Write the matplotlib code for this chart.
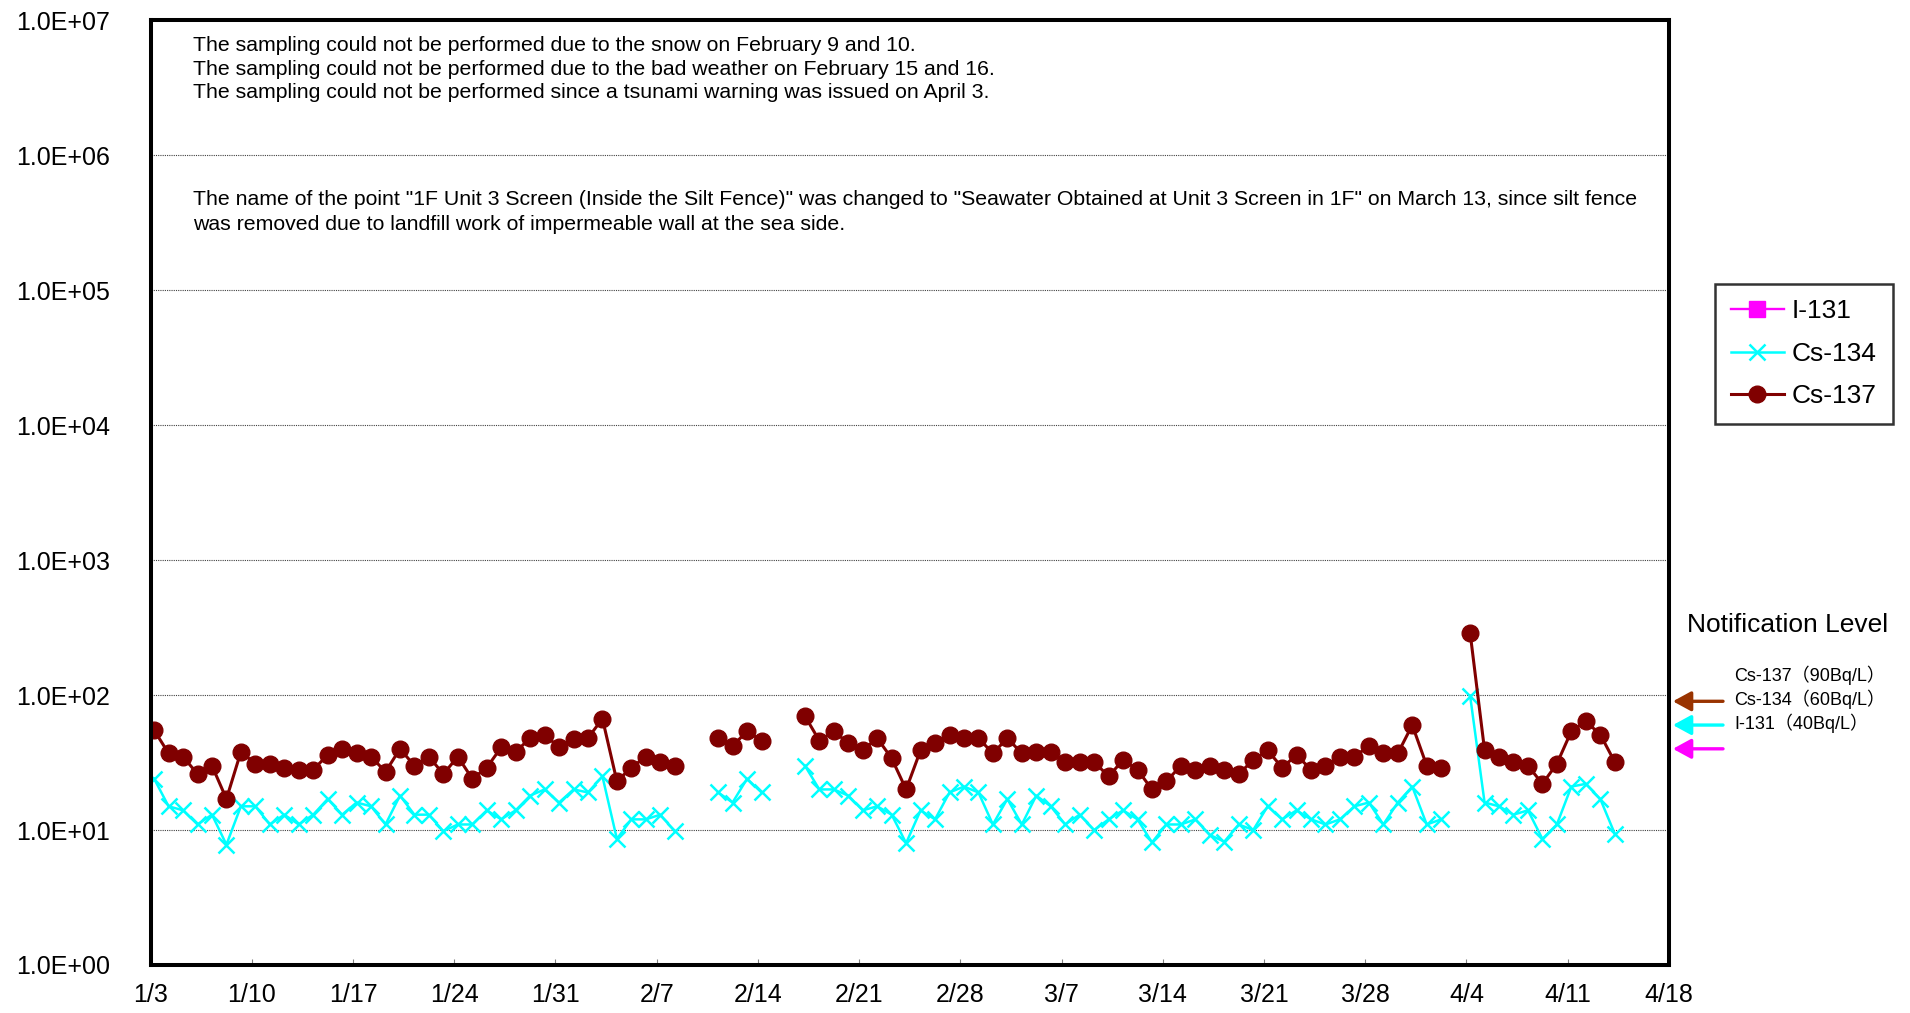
import matplotlib
matplotlib.use("Agg")
import matplotlib.pyplot as plt
import numpy as np
import pandas as pd

plt.rcParams['font.family'] = ['Liberation Sans', 'Noto Sans CJK JP', 'DejaVu Sans']

nan = np.nan

# daily sampling, 1/3 - 4/14 (2014); nan = not sampled
dates = pd.date_range('2014-01-03', '2014-04-14', freq='D')

cs137 = [
    # Jan 3 - Jan 31
    55, 37, 35, 26, 30, 17, 38, 31, 31, 29, 28, 28, 36, 40, 37, 35, 27, 40, 30, 35,
    26, 35, 24, 29, 41, 38, 48, 51, 41,
    # Feb
    47, 48, 67, 23, 29, 35, 32, 30, nan, nan, 48, 42, 54, 46, nan, nan, 70, 46, 54, 44,
    39, 48, 34, 20, 39, 44, 51, 48,
    # Mar
    48, 37, 48, 37, 38, 38, 32, 32, 32, 25, 33, 28, 20, 23, 30, 28, 30, 28, 26, 33,
    39, 29, 36, 28, 30, 35, 35, 42, 37, 37, 60,
    # Apr 1 - 14
    30, 29, nan, 290, 39, 35, 32, 30, 22, 31, 54, 64, 51, 32,
]

cs134 = [
    24, 15, 14, 11, 13, 7.8, 15, 15, 11, 13, 11, 13, 17, 13, 16, 15, 11, 18, 13, 13,
    9.8, 11, 11, 14, 12, 14, 18, 20, 16,
    20, 19, 25, 8.6, 12, 12, 13, 9.8, nan, nan, 19, 16, 24, 19, nan, nan, 30, 20, 20, 18,
    14, 15, 13, 8.0, 14, 12, 19, 21,
    19, 11, 17, 11, 18, 15, 11, 13, 10, 12, 14, 12, 8.1, 11, 11, 12, 9.2, 8.2, 11, 10,
    15, 12, 14, 12, 11, 12, 15, 16, 11, 16, 21,
    11, 12, nan, 99, 16, 15, 13, 14, 8.6, 11, 21, 22, 17, 9.4,
]

# I-131 not detected in the period
i131 = []

notes_top = [
    "The sampling could not be performed due to the snow on February 9 and 10.",
    "The sampling could not be performed due to the bad weather on February 15 and 16.",
    "The sampling could not be performed since a tsunami warning was issued on April 3.",
]
notes_mid = [
    "The name of the point \"1F Unit 3 Screen (Inside the Silt Fence)\" was changed to \"Seawater Obtained at Unit 3 Screen in 1F\" on March 13, since silt fence",
    "was removed due to landfill work of impermeable wall at the sea side.",
]

levels = [90, 60, 40]
level_colors = ['#993300', '#00FFFF', '#FF00FF']
level_labels = ['Cs-137（90Bq/L）', 'Cs-134（60Bq/L）', 'I-131（40Bq/L）']

x = dates + pd.Timedelta(hours=6)

fig = plt.figure(figsize=(19.1, 10.13), dpi=100)
ax = fig.add_axes([0.0788, 0.0474, 0.795, 0.9324])

ax.plot(i131, i131, color='#FF00FF', marker='s', markersize=11, lw=1.7, label='I-131')
ax.plot(x, cs134, color='#00FFFF', marker='x', markersize=11, markeredgewidth=1.8,
        lw=1.8, label='Cs-134')
ax.plot(x, cs137, color='#800000', marker='o', markersize=12, lw=2.2, label='Cs-137')

ax.set_yscale('log')
ax.set_ylim(1, 1e7)
ax.yaxis.set_major_locator(matplotlib.ticker.FixedLocator([10.0 ** k for k in range(8)]))
ax.yaxis.set_minor_locator(matplotlib.ticker.NullLocator())
ax.yaxis.set_major_formatter(matplotlib.ticker.FuncFormatter(lambda v, p: f"{v:.1E}"))

start = pd.Timestamp('2014-01-03')
end = pd.Timestamp('2014-04-18')
ax.set_xlim(start, end)
xt = pd.date_range(start, end, freq='7D')
ax.set_xticks(xt)
ax.set_xticklabels([f"{d.month}/{d.day}" for d in xt])

ax.grid(axis='y', which='major', linestyle=(0, (1, 1)), color='#404040', lw=0.8)
ax.tick_params(axis='y', length=0, pad=29, labelsize=18)
ax.tick_params(axis='x', direction='in', length=4, width=0.8, color='#808080',
               pad=13, labelsize=18)
for s in ax.spines.values():
    s.set_linewidth(2.9)
    s.set_color('black')

for i, t in enumerate(notes_top):
    ax.text(0.028, 0.9733 - i * 0.0249, t, transform=ax.transAxes,
            fontsize=15.3, va='center', ha='left')
for i, t in enumerate(notes_mid):
    ax.text(0.028, 0.8105 - i * 0.0264, t, transform=ax.transAxes,
            fontsize=15.3, va='center', ha='left')

leg = ax.legend(loc='upper left', bbox_to_anchor=(0.898, 0.720),
                bbox_transform=fig.transFigure, fontsize=19, frameon=True,
                fancybox=False, edgecolor='black', borderpad=0.6,
                labelspacing=0.7, handlelength=2.0, handletextpad=0.3,
                borderaxespad=0)
leg.get_frame().set_linewidth(1.8)

fig.text(0.936, 0.383, 'Notification Level', fontsize=19, ha='center', va='center')
for i, (lv, c, lb) in enumerate(zip(levels, level_colors, level_labels)):
    ax.annotate('', xy=(1.0026, lv), xytext=(1.0356, lv),
                xycoords=ax.get_yaxis_transform(),
                arrowprops=dict(arrowstyle='-|>,head_length=0.55,head_width=0.3',
                                color=c, lw=2.4, mutation_scale=20,
                                shrinkA=0, shrinkB=0),
                annotation_clip=False)
    fig.text(0.9079, 0.3337 - i * 0.0237, lb, fontsize=13, ha='left', va='center')

fig.savefig('out.png', dpi=100)
